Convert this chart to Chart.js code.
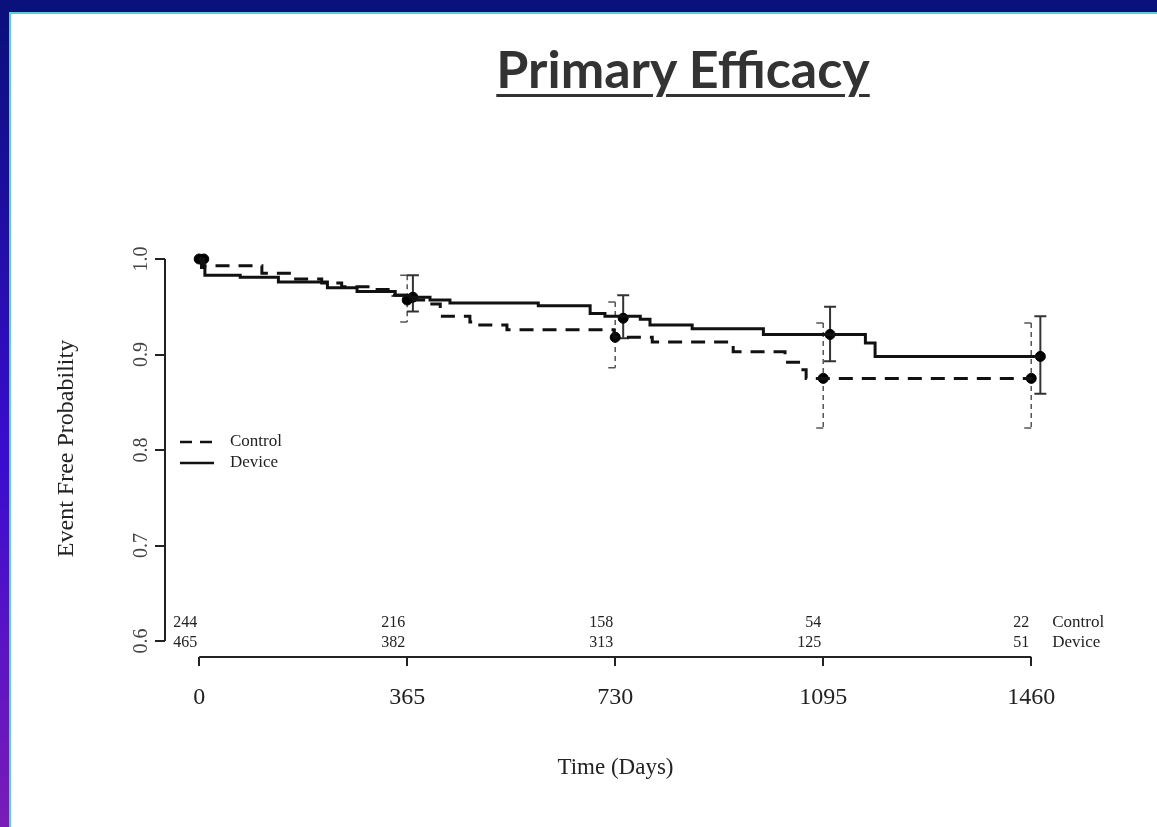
<!DOCTYPE html>
<html>
<head>
<meta charset="utf-8">
<title>Primary Efficacy</title>
<script src="https://cdn.jsdelivr.net/npm/chart.js@4.4.1/dist/chart.umd.min.js"></script>
<style>
    html, body { margin: 0; padding: 0; }
    body { width: 1157px; height: 827px; position: relative; overflow: hidden; background: #0a107c; }
    .side { position: absolute; left: 0; top: 12px; width: 9px; bottom: 0;
            background: linear-gradient(#0a107c, #3a0cd0 55%, #7a1cb8); }
    .slide { position: absolute; left: 9px; top: 12px; right: 0; bottom: 0; background: #fff;
             border-top: 2px solid #5ccfd0; border-left: 2px solid #5ccfd0; }
    .title { position: absolute; left: 683px; top: 42px; transform: translateX(-50%);
             font-family: 'Lato', 'Open Sans', sans-serif; font-weight: 700; font-size: 52px;
             line-height: 1; color: #333; white-space: nowrap;
             text-decoration: underline; text-decoration-thickness: 3px; text-underline-offset: 6px; }
    #km { position: absolute; left: 0; top: 0; }
</style>
</head>
<body>
<div class="side"></div>
<div class="slide"></div>
<div class="title">Primary Efficacy</div>
<canvas id="km" width="1157" height="827"></canvas>
<script>
// Kaplan-Meier steps (days, event free probability)
const controlDays = [0, 8, 110, 165, 215, 250, 300, 340, 365, 405, 423, 475, 485, 540, 728, 795, 937, 1028, 1055, 1065, 1462];
const controlSurv = [1.000, 0.993, 0.985, 0.979, 0.975, 0.971, 0.968, 0.962, 0.957, 0.953, 0.940, 0.934, 0.931, 0.926, 0.918, 0.913, 0.903, 0.892, 0.884, 0.875, 0.875];

const deviceDays = [0, 4, 10, 72, 139, 225, 277, 344, 370, 405, 440, 595, 686, 712, 774, 791, 865, 990, 1169, 1186, 1476];
const deviceSurv = [1.000, 0.991, 0.983, 0.981, 0.976, 0.970, 0.966, 0.962, 0.960, 0.957, 0.954, 0.951, 0.943, 0.940, 0.937, 0.931, 0.927, 0.921, 0.912, 0.898, 0.898];

// yearly estimates with confidence limits
const controlMarkDays = [0, 365, 730, 1095, 1460];
const controlMarkSurv = [1.000, 0.957, 0.918, 0.875, 0.875];
const controlLower = [1.000, 0.934, 0.886, 0.823, 0.823];
const controlUpper = [1.000, 0.983, 0.955, 0.933, 0.933];

const deviceMarkDays = [8, 375, 744, 1107, 1476];
const deviceMarkSurv = [1.000, 0.960, 0.938, 0.921, 0.898];
const deviceLower = [1.000, 0.945, 0.917, 0.893, 0.859];
const deviceUpper = [1.000, 0.983, 0.962, 0.950, 0.940];

// axes and numbers at risk
const xTicks = [0, 365, 730, 1095, 1460];
const yTicks = [0.6, 0.7, 0.8, 0.9, 1.0];
const riskControl = [244, 216, 158, 54, 22];
const riskDevice = [465, 382, 313, 125, 51];

const SERIF = "'Liberation Serif', 'DejaVu Serif', serif";
const INK = '#222';

function toPoints(xs, ys) {
    return xs.map((x, i) => ({ x: x, y: ys[i] }));
}

// error bars, axis lines, numbers at risk, legend
const kmExtras = {
    id: 'kmExtras',
    beforeDatasetsDraw(chart) {
        const ctx = chart.ctx;
        const xs = chart.scales.x, ys = chart.scales.y;
        ctx.save();
        // control: dashed grey, half caps to the left
        ctx.strokeStyle = '#555';
        ctx.lineWidth = 1.5;
        controlMarkDays.forEach((d, i) => {
            if (controlLower[i] === controlUpper[i]) return;
            const px = xs.getPixelForValue(d);
            const top = ys.getPixelForValue(controlUpper[i]);
            const bot = ys.getPixelForValue(controlLower[i]);
            ctx.setLineDash([5, 4]);
            ctx.beginPath();
            ctx.moveTo(px, top);
            ctx.lineTo(px, bot);
            ctx.stroke();
            ctx.setLineDash([]);
            ctx.beginPath();
            ctx.moveTo(px - 7, top); ctx.lineTo(px, top);
            ctx.moveTo(px - 7, bot); ctx.lineTo(px, bot);
            ctx.stroke();
        });
        // device: solid with full caps
        ctx.strokeStyle = '#333';
        ctx.lineWidth = 2;
        deviceMarkDays.forEach((d, i) => {
            if (deviceLower[i] === deviceUpper[i]) return;
            const px = xs.getPixelForValue(d);
            const top = ys.getPixelForValue(deviceUpper[i]);
            const bot = ys.getPixelForValue(deviceLower[i]);
            ctx.beginPath();
            ctx.moveTo(px, top); ctx.lineTo(px, bot);
            ctx.moveTo(px - 6, top); ctx.lineTo(px + 6, top);
            ctx.moveTo(px - 6, bot); ctx.lineTo(px + 6, bot);
            ctx.stroke();
        });
        ctx.restore();
    },
    afterDraw(chart) {
        const ctx = chart.ctx;
        const xs = chart.scales.x, ys = chart.scales.y;
        const area = chart.chartArea;
        ctx.save();

        // axis lines only over the data range, R style
        ctx.strokeStyle = INK;
        ctx.lineWidth = 2;
        ctx.beginPath();
        ctx.moveTo(area.left, ys.getPixelForValue(yTicks[yTicks.length - 1]));
        ctx.lineTo(area.left, ys.getPixelForValue(yTicks[0]));
        ctx.moveTo(xs.getPixelForValue(xTicks[0]), area.bottom);
        ctx.lineTo(xs.getPixelForValue(xTicks[xTicks.length - 1]), area.bottom);
        ctx.stroke();

        // numbers at risk
        ctx.fillStyle = INK;
        ctx.font = '16px ' + SERIF;
        ctx.textBaseline = 'middle';
        ctx.textAlign = 'right';
        xTicks.forEach((d, i) => {
            const px = xs.getPixelForValue(d) - 2;
            ctx.fillText(String(riskControl[i]), px, area.bottom - 34);
            ctx.fillText(String(riskDevice[i]), px, area.bottom - 14);
        });
        ctx.textAlign = 'left';
        ctx.font = '17px ' + SERIF;
        const lx = xs.getPixelForValue(xTicks[xTicks.length - 1]) + 21;
        ctx.fillText('Control', lx, area.bottom - 34);
        ctx.fillText('Device', lx, area.bottom - 14);

        // legend
        const gx = area.left + 15;
        ctx.lineWidth = 2.5;
        ctx.strokeStyle = '#111';
        ctx.setLineDash([12, 8]);
        ctx.beginPath();
        ctx.moveTo(gx, area.top + 202); ctx.lineTo(gx + 34, area.top + 202);
        ctx.stroke();
        ctx.setLineDash([]);
        ctx.beginPath();
        ctx.moveTo(gx, area.top + 223); ctx.lineTo(gx + 34, area.top + 223);
        ctx.stroke();
        ctx.fillText('Control', gx + 50, area.top + 202);
        ctx.fillText('Device', gx + 50, area.top + 223);

        ctx.restore();
    }
};

new Chart(document.getElementById('km'), {
    type: 'line',
    data: {
        datasets: [
            {
                label: 'Control',
                data: toPoints(controlDays, controlSurv),
                stepped: true,
                borderColor: '#111',
                borderWidth: 3,
                borderDash: [14, 9],
                pointRadius: 0,
                fill: false,
                clip: false
            },
            {
                label: 'Device',
                data: toPoints(deviceDays, deviceSurv),
                stepped: true,
                borderColor: '#111',
                borderWidth: 3,
                pointRadius: 0,
                fill: false,
                clip: false
            },
            {
                label: 'Control estimate',
                data: toPoints(controlMarkDays, controlMarkSurv),
                showLine: false,
                pointRadius: 5,
                pointBackgroundColor: '#000',
                pointBorderColor: '#000',
                clip: false
            },
            {
                label: 'Device estimate',
                data: toPoints(deviceMarkDays, deviceMarkSurv),
                showLine: false,
                pointRadius: 5,
                pointBackgroundColor: '#000',
                pointBorderColor: '#000',
                clip: false
            }
        ]
    },
    options: {
        responsive: false,
        animation: false,
        layout: { padding: { left: 52, top: 240, right: 91, bottom: 0 } },
        plugins: {
            legend: { display: false },
            tooltip: { enabled: false }
        },
        scales: {
            x: {
                type: 'linear',
                min: -60,
                max: 1521,
                afterBuildTicks: s => { s.ticks = xTicks.map(v => ({ value: v })); },
                afterFit: s => { s.height = 170; },
                border: { display: false },
                grid: { drawOnChartArea: false, drawTicks: true, tickLength: 9, color: INK, lineWidth: 2 },
                ticks: {
                    autoSkip: false,
                    maxRotation: 0,
                    padding: 17,
                    color: INK,
                    font: { family: SERIF, size: 24 },
                    callback: v => String(v)
                },
                title: {
                    display: true,
                    text: 'Time (Days)',
                    color: INK,
                    font: { family: SERIF, size: 23 },
                    padding: { top: 0, bottom: 45 }
                }
            },
            y: {
                min: 0.58325,
                max: 1.0199,
                afterBuildTicks: s => { s.ticks = yTicks.map(v => ({ value: v })); },
                afterFit: s => { s.width = 113; },
                border: { display: false },
                grid: { drawOnChartArea: false, drawTicks: true, tickLength: 10, color: INK, lineWidth: 2 },
                ticks: {
                    minRotation: 90,
                    maxRotation: 90,
                    crossAlign: 'center',
                    padding: 1,
                    color: '#444',
                    font: { family: SERIF, size: 20 },
                    callback: v => Number(v).toFixed(1)
                },
                title: {
                    display: true,
                    text: 'Event Free Probability',
                    color: INK,
                    font: { family: SERIF, size: 24 },
                    padding: { top: 0, bottom: 0 }
                }
            }
        }
    },
    plugins: [kmExtras]
});
</script>
</body>
</html>
